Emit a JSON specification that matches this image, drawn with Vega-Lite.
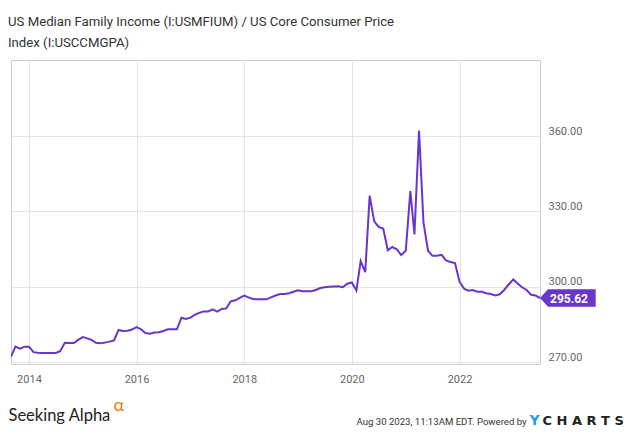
{
  "$schema": "https://vega.github.io/schema/vega-lite/v6.json",
  "width": 529,
  "height": 304,
  "autosize": {"type": "none"},
  "padding": {"left": 11, "top": 60, "right": 95, "bottom": 71},
  "background": "white",
  "title": {
    "text": ["US Median Family Income (I:USMFIUM) / US Core Consumer Price", "Index (I:USCCMGPA)"],
    "anchor": "start",
    "frame": "group",
    "font": "Roboto",
    "fontSize": 13.2,
    "fontWeight": "normal",
    "color": "#333333",
    "lineHeight": 21,
    "dx": -3,
    "offset": 10
  },
  "config": {
    "view": {"stroke": "#cccccc", "strokeWidth": 1},
    "axis": {
      "domain": false,
      "ticks": false,
      "gridColor": "#e3e3e3",
      "gridWidth": 1,
      "labelFont": "Roboto",
      "labelFontSize": 11,
      "labelColor": "#666666",
      "titleFontWeight": "normal"
    }
  },
  "resolve": {"axis": {"x": "independent", "y": "independent"}},
  "layer": [
    {
      "data": {
        "values": [
          {"date": "2013-09-01", "value": 272.3},
          {"date": "2013-10-01", "value": 276.3},
          {"date": "2013-11-01", "value": 275.5},
          {"date": "2013-12-01", "value": 276.3},
          {"date": "2014-01-01", "value": 276.3},
          {"date": "2014-02-01", "value": 274.1},
          {"date": "2014-03-01", "value": 273.9},
          {"date": "2014-04-01", "value": 273.8},
          {"date": "2014-05-01", "value": 273.8},
          {"date": "2014-06-01", "value": 273.8},
          {"date": "2014-07-01", "value": 273.8},
          {"date": "2014-08-01", "value": 274.5},
          {"date": "2014-09-01", "value": 277.8},
          {"date": "2014-10-01", "value": 277.7},
          {"date": "2014-11-01", "value": 277.7},
          {"date": "2014-12-01", "value": 279.0},
          {"date": "2015-01-01", "value": 280.1},
          {"date": "2015-02-01", "value": 279.6},
          {"date": "2015-03-01", "value": 279.0},
          {"date": "2015-04-01", "value": 277.8},
          {"date": "2015-05-01", "value": 277.6},
          {"date": "2015-06-01", "value": 277.9},
          {"date": "2015-07-01", "value": 278.3},
          {"date": "2015-08-01", "value": 278.8},
          {"date": "2015-09-01", "value": 282.9},
          {"date": "2015-10-01", "value": 282.5},
          {"date": "2015-11-01", "value": 282.6},
          {"date": "2015-12-01", "value": 283.1},
          {"date": "2016-01-01", "value": 284.1},
          {"date": "2016-02-01", "value": 283.2},
          {"date": "2016-03-01", "value": 281.7},
          {"date": "2016-04-01", "value": 281.4},
          {"date": "2016-05-01", "value": 281.9},
          {"date": "2016-06-01", "value": 282.0},
          {"date": "2016-07-01", "value": 282.5},
          {"date": "2016-08-01", "value": 283.2},
          {"date": "2016-09-01", "value": 283.2},
          {"date": "2016-10-01", "value": 283.2},
          {"date": "2016-11-01", "value": 287.8},
          {"date": "2016-12-01", "value": 287.3},
          {"date": "2017-01-01", "value": 287.8},
          {"date": "2017-02-01", "value": 289.0},
          {"date": "2017-03-01", "value": 289.7},
          {"date": "2017-04-01", "value": 290.3},
          {"date": "2017-05-01", "value": 290.3},
          {"date": "2017-06-01", "value": 291.1},
          {"date": "2017-07-01", "value": 290.2},
          {"date": "2017-08-01", "value": 291.3},
          {"date": "2017-09-01", "value": 291.5},
          {"date": "2017-10-01", "value": 294.3},
          {"date": "2017-11-01", "value": 294.7},
          {"date": "2017-12-01", "value": 295.7},
          {"date": "2018-01-01", "value": 296.6},
          {"date": "2018-02-01", "value": 295.8},
          {"date": "2018-03-01", "value": 295.2},
          {"date": "2018-04-01", "value": 295.1},
          {"date": "2018-05-01", "value": 295.1},
          {"date": "2018-06-01", "value": 295.1},
          {"date": "2018-07-01", "value": 295.9},
          {"date": "2018-08-01", "value": 296.6},
          {"date": "2018-09-01", "value": 297.2},
          {"date": "2018-10-01", "value": 297.2},
          {"date": "2018-11-01", "value": 297.5},
          {"date": "2018-12-01", "value": 298.1},
          {"date": "2019-01-01", "value": 298.7},
          {"date": "2019-02-01", "value": 298.3},
          {"date": "2019-03-01", "value": 298.3},
          {"date": "2019-04-01", "value": 298.3},
          {"date": "2019-05-01", "value": 298.8},
          {"date": "2019-06-01", "value": 299.6},
          {"date": "2019-07-01", "value": 299.9},
          {"date": "2019-08-01", "value": 300.1},
          {"date": "2019-09-01", "value": 300.2},
          {"date": "2019-10-01", "value": 300.3},
          {"date": "2019-11-01", "value": 299.9},
          {"date": "2019-12-01", "value": 301.3},
          {"date": "2020-01-01", "value": 301.8},
          {"date": "2020-02-01", "value": 298.6},
          {"date": "2020-03-01", "value": 310.3},
          {"date": "2020-04-01", "value": 305.9},
          {"date": "2020-05-01", "value": 336.3},
          {"date": "2020-06-01", "value": 326.1},
          {"date": "2020-07-01", "value": 323.9},
          {"date": "2020-08-01", "value": 323.2},
          {"date": "2020-09-01", "value": 314.6},
          {"date": "2020-10-01", "value": 315.9},
          {"date": "2020-11-01", "value": 315.0},
          {"date": "2020-12-01", "value": 312.7},
          {"date": "2021-01-01", "value": 314.4},
          {"date": "2021-02-01", "value": 338.1},
          {"date": "2021-03-01", "value": 320.9},
          {"date": "2021-04-01", "value": 362.2},
          {"date": "2021-05-01", "value": 325.8},
          {"date": "2021-06-01", "value": 314.4},
          {"date": "2021-07-01", "value": 312.4},
          {"date": "2021-08-01", "value": 312.4},
          {"date": "2021-09-01", "value": 312.8},
          {"date": "2021-10-01", "value": 310.6},
          {"date": "2021-11-01", "value": 309.9},
          {"date": "2021-12-01", "value": 309.5},
          {"date": "2022-01-01", "value": 302.1},
          {"date": "2022-02-01", "value": 299.3},
          {"date": "2022-03-01", "value": 298.5},
          {"date": "2022-04-01", "value": 298.8},
          {"date": "2022-05-01", "value": 298.1},
          {"date": "2022-06-01", "value": 298.1},
          {"date": "2022-07-01", "value": 297.5},
          {"date": "2022-08-01", "value": 297.2},
          {"date": "2022-09-01", "value": 296.6},
          {"date": "2022-10-01", "value": 297.1},
          {"date": "2022-11-01", "value": 298.9},
          {"date": "2022-12-01", "value": 301.0},
          {"date": "2023-01-01", "value": 303.0},
          {"date": "2023-02-01", "value": 301.3},
          {"date": "2023-03-01", "value": 299.9},
          {"date": "2023-04-01", "value": 298.8},
          {"date": "2023-05-01", "value": 296.9},
          {"date": "2023-06-01", "value": 296.6},
          {"date": "2023-07-01", "value": 295.62}
        ]
      },
      "mark": {"type": "line", "color": "#6836cc", "strokeWidth": 2, "clip": true},
      "encoding": {
        "x": {
          "field": "date",
          "type": "temporal",
          "scale": {"type": "utc", "domain": [{"year": 2013, "month": 9, "date": 1, "utc": true}, {"year": 2023, "month": 7, "date": 1, "utc": true}]},
          "axis": {
            "orient": "bottom",
            "values": [{"year": 2014, "utc": true}, {"year": 2016, "utc": true}, {"year": 2018, "utc": true}, {"year": 2020, "utc": true}, {"year": 2022, "utc": true}],
            "format": "%Y",
            "labelPadding": 9,
            "title": "Seeking Alpha",
            "titleX": -3,
            "titleY": 56,
            "titleAlign": "left",
            "titleBaseline": "alphabetic",
            "titleFont": "Lato",
            "titleFontSize": 16.5,
            "titleColor": "#222222"
          }
        },
        "y": {
          "field": "value",
          "type": "quantitative",
          "scale": {"domain": [269.4, 390.2], "nice": false, "zero": false},
          "axis": {
            "orient": "right",
            "values": [270, 300, 330, 360],
            "format": ".2f",
            "labelBaseline": "bottom",
            "labelPadding": 8,
            "title": "Aug 30 2023, 11:13AM EDT.  Powered by",
            "titleAngle": 0,
            "titleX": -184,
            "titleY": 364.5,
            "titleAlign": "left",
            "titleBaseline": "alphabetic",
            "titleFont": "Roboto",
            "titleFontSize": 9.6,
            "titleColor": "#333333"
          }
        }
      }
    },
    {
      "data": {"values": [{"date": "2023-07-01", "value": 295.62}]},
      "mark": {
        "type": "point",
        "shape": "M0,0 L0.8,-0.87 L5.57,-0.87 L5.57,0.87 L0.8,0.87 Z",
        "size": 400,
        "filled": true,
        "opacity": 1,
        "color": "#6836cc",
        "strokeWidth": 0,
        "clip": false
      },
      "encoding": {
        "x": {
          "field": "date",
          "type": "temporal",
          "axis": {
            "orient": "top",
            "labels": false,
            "grid": false,
            "title": "α",
            "titleX": 102,
            "titleY": 350,
            "titleAlign": "left",
            "titleBaseline": "alphabetic",
            "titleFont": "Lato",
            "titleFontSize": 18,
            "titleColor": "#f07c1e"
          }
        },
        "y": {
          "field": "value",
          "type": "quantitative",
          "axis": {
            "orient": "left",
            "labels": false,
            "grid": false,
            "title": "Y",
            "titleAngle": 0,
            "titleX": 518,
            "titleY": 364.5,
            "titleAlign": "left",
            "titleBaseline": "alphabetic",
            "titleFont": "DejaVu Sans",
            "titleFontWeight": "bold",
            "titleFontSize": 14,
            "titleColor": "#1e9ee0"
          }
        }
      }
    },
    {
      "data": {"values": [{"date": "2023-07-01", "value": 295.62}]},
      "mark": {
        "type": "text",
        "dx": 29,
        "dy": 1,
        "align": "center",
        "baseline": "middle",
        "font": "Roboto",
        "fontSize": 12,
        "fontWeight": "bold",
        "color": "white"
      },
      "encoding": {
        "x": {
          "field": "date",
          "type": "temporal",
          "axis": {
            "orient": "bottom",
            "labels": false,
            "grid": false,
            "title": "C H A R T S",
            "titleX": 531,
            "titleY": 60.5,
            "titleAlign": "left",
            "titleBaseline": "alphabetic",
            "titleFont": "DejaVu Sans",
            "titleFontWeight": "bold",
            "titleFontSize": 13,
            "titleColor": "#222222"
          }
        },
        "y": {
          "field": "value",
          "type": "quantitative",
          "axis": null
        },
        "text": {"field": "value", "type": "quantitative", "format": ".2f"}
      }
    }
  ]
}
